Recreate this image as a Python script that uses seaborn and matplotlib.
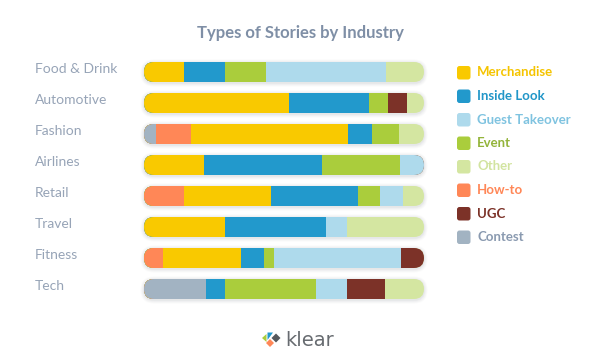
import numpy as np
import pandas as pd
import matplotlib
matplotlib.use("Agg")
import matplotlib.pyplot as plt
import seaborn as sns
from matplotlib.patches import FancyBboxPatch, Polygon

# ---------------- data ----------------
industries = ["Food & Drink", "Automotive", "Fashion", "Airlines",
              "Retail", "Travel", "Fitness", "Tech"]
# segment order along each bar (left to right)
story_types = ["Contest", "How-to", "Merchandise", "Inside Look",
               "Event", "Guest Takeover", "UGC", "Other"]
contest        = [0.0, 0.0, 4.3, 0.0, 0.0, 0.0, 0.0, 22.0]
how_to         = [0.0, 0.0, 12.5, 0.0, 14.4, 0.0, 6.7, 0.0]
merchandise    = [14.4, 51.8, 56.2, 21.4, 31.0, 28.9, 27.9, 0.0]
inside_look    = [14.5, 28.6, 8.6, 42.0, 31.2, 36.1, 8.3, 6.9]
event          = [14.6, 6.7, 9.5, 28.0, 7.7, 0.0, 3.6, 32.4]
guest_takeover = [42.8, 0.0, 0.0, 8.6, 8.2, 7.5, 45.4, 11.3]
ugc            = [0.0, 6.8, 0.0, 0.0, 0.0, 0.0, 8.2, 13.5]
other          = [13.7, 6.2, 8.9, 0.0, 7.5, 27.5, 0.0, 13.9]

legend_order = ["Merchandise", "Inside Look", "Guest Takeover", "Event",
                "Other", "How-to", "UGC", "Contest"]

colors = {
    "Merchandise": "#F9C900",
    "Inside Look": "#2299CC",
    "Guest Takeover": "#AEDAEC",
    "Event": "#AACD3C",
    "Other": "#D4E6A1",
    "How-to": "#FF8757",
    "UGC": "#7C3228",
    "Contest": "#A2B3C2",
}
text_colors = {
    "Merchandise": "#F5C400",
    "Inside Look": "#2196C8",
    "Guest Takeover": "#7FC3E0",
    "Event": "#93B43A",
    "Other": "#D2E4A0",
    "How-to": "#FF8757",
    "UGC": "#7C3228",
    "Contest": "#8A9AB0",
}

# ---------------- build table ----------------
df = pd.DataFrame({
    "Contest": contest, "How-to": how_to, "Merchandise": merchandise,
    "Inside Look": inside_look, "Event": event,
    "Guest Takeover": guest_takeover, "UGC": ugc, "Other": other,
}, index=industries)[story_types]
df = df.div(df.sum(axis=1), axis=0) * 100
cum = df.cumsum(axis=1)

# ---------------- figure ----------------
sns.set_theme(style="white")
plt.rcParams["font.family"] = ["Lato", "DejaVu Sans"]

W, H = 600, 364
fig = plt.figure(figsize=(W / 100, H / 100), dpi=100)
fig.patch.set_facecolor("white")

x0, x1 = 144, 424
top, bot = 56.5, 304.5
ax = fig.add_axes([x0 / W, 1 - bot / H, (x1 - x0) / W, (bot - top) / H])
ax.set_facecolor("none")

bar_h = 20 / 31.0

# draw cumulative layers, last first so earlier segments sit on top
for st in reversed(story_types):
    plot_df = pd.DataFrame({"industry": industries, "val": cum[st].values})
    sns.barplot(data=plot_df, x="val", y="industry", order=industries,
                color=colors[st], width=bar_h, ax=ax, orient="h",
                saturation=1, linewidth=0, edgecolor="none")

ax.set_xlim(0, 100)
ax.set_ylim(len(industries) - 0.5, -0.5)

bar_patches = list(ax.patches)

# pill shaped clip paths + soft shadow
px_x = 100 / (x1 - x0)        # data units per pixel (x)
px_y = 1 / 31.0               # data units per pixel (y)
r = 10 * px_x
aspect = px_y / px_x
for i, ind in enumerate(industries):
    total = cum.loc[ind].iloc[-1]
    for grow, alpha in [(3.5, 0.04), (2.5, 0.05), (1.5, 0.06), (0.7, 0.07)]:
        sh = FancyBboxPatch((0 - grow * px_x, i - bar_h / 2 - grow * px_y + 1.0 * px_y),
                            total + 2 * grow * px_x, bar_h + 2 * grow * px_y,
                            boxstyle=f"round,pad=0,rounding_size={r + grow * px_x}",
                            mutation_aspect=aspect, facecolor="#8a9098",
                            edgecolor="none", alpha=alpha, zorder=0,
                            clip_on=False)
        ax.add_patch(sh)
    pill = FancyBboxPatch((0, i - bar_h / 2), total, bar_h,
                          boxstyle=f"round,pad=0,rounding_size={r}",
                          mutation_aspect=aspect, facecolor="none",
                          edgecolor="none")
    ax.add_patch(pill)
    for bp in bar_patches:
        cy = bp.get_y() + bp.get_height() / 2
        if abs(cy - i) < 0.01:
            bp.set_clip_path(pill)
            bp.set_zorder(2)

ax.set_xlabel("")
ax.set_ylabel("")
ax.set_xticks([])
ax.set_yticks([])
ax.tick_params(left=False, bottom=False)
for s in ax.spines.values():
    s.set_visible(False)

# category labels, left aligned
for i, ind in enumerate(industries):
    ypix = 72 + 31 * i - 3
    fig.text(35 / W, 1 - ypix / H, ind, ha="left", va="center",
             fontsize=10, color="#97A4B7", fontweight="normal")

# title
fig.text(300 / W, 1 - 33 / H, "Types of Stories by Industry", ha="center",
         va="center", fontsize=12, fontweight="bold", color="#7F8FA6")

# overlay axes in pixel coordinates for legend & logo
lax = fig.add_axes([0, 0, 1, 1], facecolor="none")
lax.set_xlim(0, W)
lax.set_ylim(H, 0)
lax.axis("off")

# legend
for k, s in enumerate(legend_order):
    yc = 72.5 + 23.5 * k
    lax.add_patch(FancyBboxPatch((457, yc - 6.5), 13.5, 13.5,
                                 boxstyle="round,pad=0,rounding_size=2.5",
                                 facecolor=colors[s], edgecolor="none"))
    lax.text(477, yc, s, ha="left", va="center", fontsize=9.5,
             fontweight="bold", color=text_colors[s])

# klear logo
lax.add_patch(Polygon([(262, 338), (266.5, 334), (266.5, 342)], closed=True,
                      facecolor="#AACD3C", edgecolor="none"))
lax.add_patch(Polygon([(267.5, 332.5), (273, 332.5), (267.5, 340)], closed=True,
                      facecolor="#2299CC", edgecolor="none"))
lax.add_patch(Polygon([(276, 333.5), (280.5, 338), (276, 342.5), (271.5, 338)], closed=True,
                      facecolor="#55595d", edgecolor="none"))
lax.add_patch(Polygon([(270, 339), (274, 343), (270, 347), (266, 343)], closed=True,
                      facecolor="#FF8757", edgecolor="none"))
lax.text(285, 346, "klear", ha="left", va="baseline", fontsize=14,
         color="#676b70", fontweight="normal", family="DejaVu Sans")

fig.savefig("out.png", dpi=100, facecolor="white")
